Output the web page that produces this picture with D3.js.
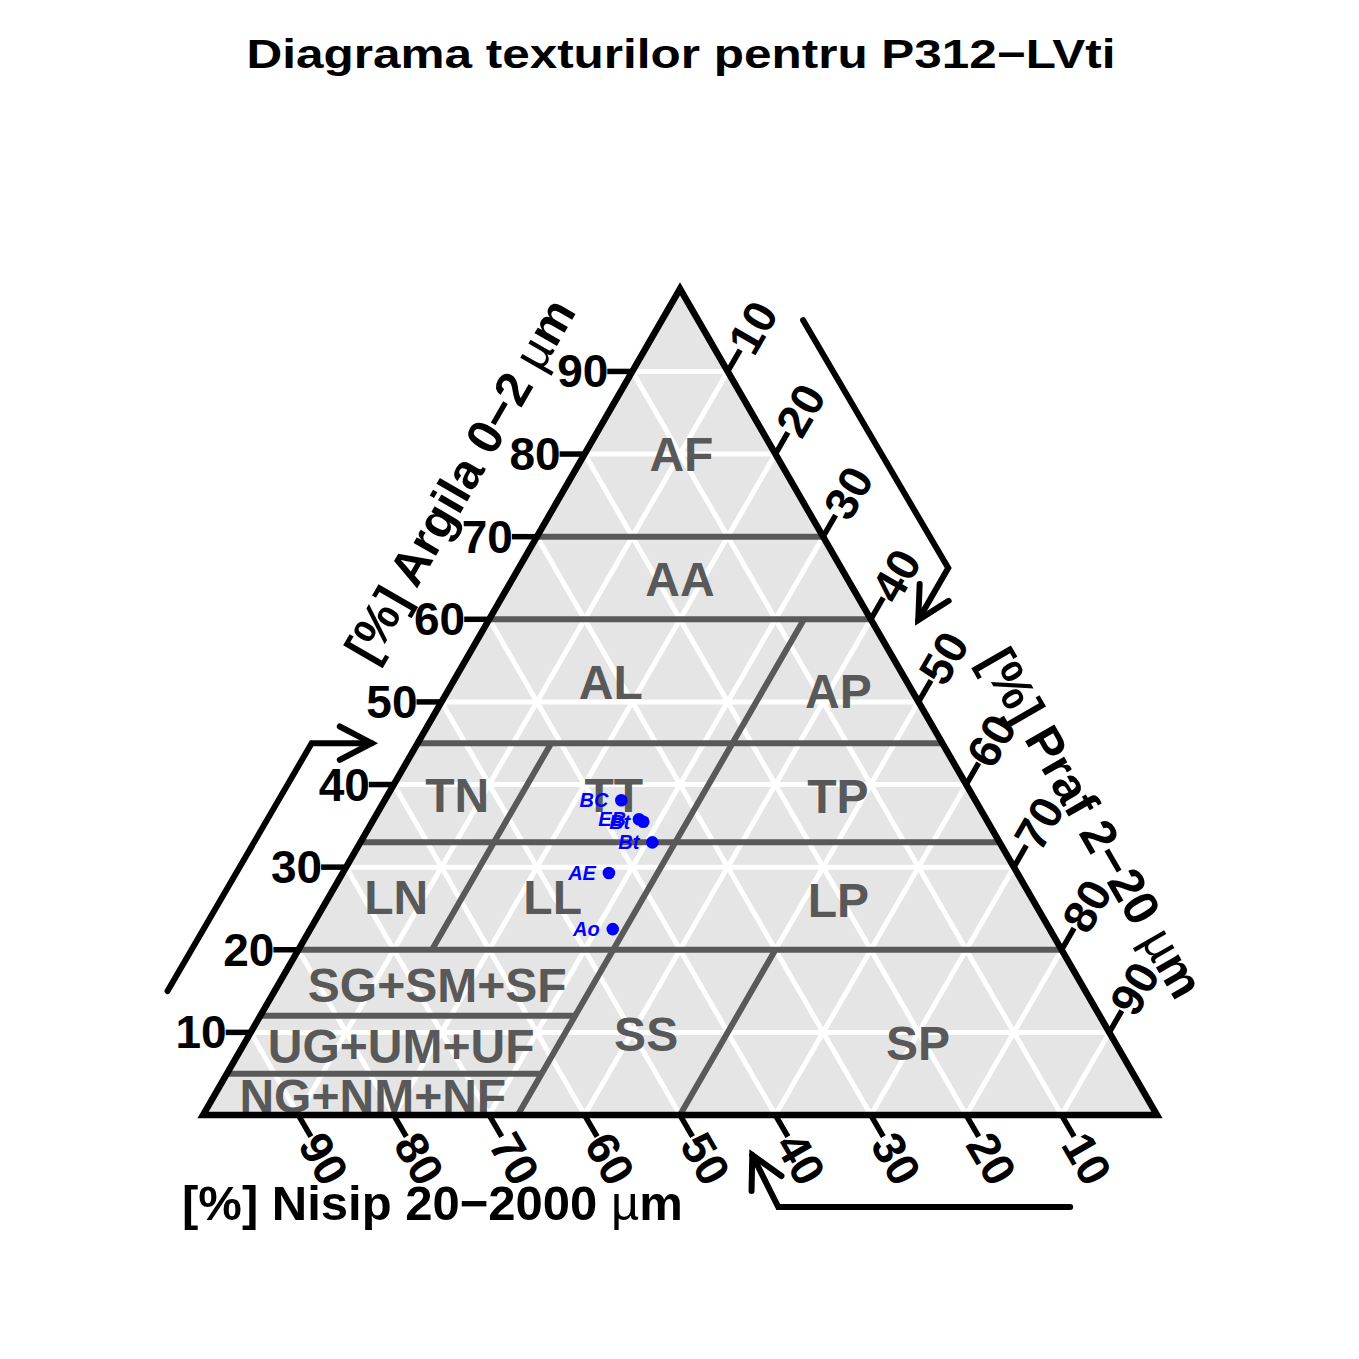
<!DOCTYPE html>
<html><head><meta charset="utf-8">
<script src="https://cdn.jsdelivr.net/npm/d3@7"></script>
<style>body{margin:0;background:#fff}svg{display:block}text{font-family:"Liberation Sans",Arial,sans-serif;font-weight:bold}</style>
</head><body>
<svg id="chart" width="1359" height="1359"></svg>
<script>
// ---------- data ----------
const titleText = "Diagrama texturilor pentru P312\u2212LVti";
const clayTicks = [10,20,30,40,50,60,70,80,90];
const siltTicks = [10,20,30,40,50,60,70,80,90];
const sandTicks = [10,20,30,40,50,60,70,80,90];
const gridLevels = [10,20,30,40,50,60,70,80,90];
// class boundaries: [clay1, silt1, clay2, silt2]
const boundaryClay = [[70,0,70,30],[60,0,60,40],[45,0,45,55],[33,0,33,67],[20,0,20,80],[12,0,12,33],[5,0,5,33]];
const boundarySilt = [[0,33,60,33],[20,14,45,14],[0,50,20,50]];
const classNames = ["AF","AA","AL","AP","TN","TT","TP","LN","LL","LP","SG+SM+SF","UG+UM+UF","NG+NM+NF","SS","SP"];
const classClay  = [79.9,64.8,52.3,51.2,38.7,38.7,38.5,26.3,26.3,26.0,15.7,8.35,2.2,9.7,8.7];
const classSilt  = [10.2,17.6,16.6,41.0,7.3,23.7,47.3,7.1,23.5,53.6,16.7,16.6,16.7,41.6,70.6];
const horizons = ["BC","EB","Bt","Bt","AE","Ao"];
const clayVals = [38.1,35.8,35.5,33.0,29.3,22.5];
const siltVals = [24.8,27.8,28.4,30.6,27.9,31.7];

// ---------- layout ----------
const svg = d3.select("#chart");
const Lx = 203, W = 954, By = 1115, H = W*Math.sqrt(3)/2;
const xs = d3.scaleLinear().domain([0,100]).range([Lx, Lx+W]);
const ys = d3.scaleLinear().domain([0,100]).range([By, By-H]);
const proj = (clay, silt) => [xs(silt + clay/2), ys(clay)];
const line = d3.line();
const GREY = "#595959";

// title
svg.append("text").attr("x",681).attr("y",68).attr("text-anchor","middle")
  .attr("font-size",40).attr("textLength",869).attr("lengthAdjust","spacingAndGlyphs")
  .text(titleText);

// triangle fill
const tri = [proj(0,0), proj(100,0), proj(0,100)];
svg.append("path").attr("d", line(tri)+"Z").attr("fill","#E5E5E5");

// grid
const gridG = svg.append("g").attr("stroke","#fff").attr("stroke-width",5).attr("fill","none");
gridLevels.forEach(v=>{
  gridG.append("path").attr("d", line([proj(v,0), proj(v,100-v)]));      // clay
  gridG.append("path").attr("d", line([proj(0,v), proj(100-v,v)]));      // silt
  gridG.append("path").attr("d", line([proj(0,100-v), proj(100-v,0)]));  // sand
});

// class boundaries
const bG = svg.append("g").attr("stroke",GREY).attr("stroke-width",6).attr("fill","none");
boundaryClay.concat(boundarySilt).forEach(b=>{
  bG.append("path").attr("d", line([proj(b[0],b[1]), proj(b[2],b[3])]));
});

// class labels
svg.append("g").selectAll("text").data(classNames).join("text")
  .attr("x",(d,i)=>proj(classClay[i],classSilt[i])[0])
  .attr("y",(d,i)=>proj(classClay[i],classSilt[i])[1])
  .attr("text-anchor","middle").attr("dominant-baseline","central")
  .attr("font-size",48).attr("fill",GREY).text(d=>d);

// triangle border
svg.append("path").attr("d", line(tri)+"Z").attr("fill","none")
  .attr("stroke","#000").attr("stroke-width",6.5).attr("stroke-linejoin","miter");

// ticks
const TL = 25, c60 = 0.5, s60 = Math.sqrt(3)/2;
const tG = svg.append("g");
clayTicks.forEach(v=>{
  const p = proj(v, 0);
  tG.append("line").attr("x1",p[0]).attr("y1",p[1]).attr("x2",p[0]-TL).attr("y2",p[1])
    .attr("stroke","#000").attr("stroke-width",5.5);
  tG.append("text").attr("x",p[0]-TL+1).attr("y",p[1]).attr("text-anchor","end")
    .attr("dominant-baseline","central").attr("font-size",46).text(v);
});
siltTicks.forEach(v=>{
  const p = proj(100-v, v);
  const e = [p[0]+TL*c60, p[1]-TL*s60];
  tG.append("line").attr("x1",p[0]).attr("y1",p[1]).attr("x2",e[0]).attr("y2",e[1])
    .attr("stroke","#000").attr("stroke-width",5.5);
  tG.append("text").attr("transform",`translate(${e[0]},${e[1]}) rotate(-60)`)
    .attr("dominant-baseline","central").attr("font-size",46).text(v);
});
sandTicks.forEach(v=>{
  const p = proj(0, 100-v);
  const e = [p[0]+TL*c60, p[1]+TL*s60];
  tG.append("line").attr("x1",p[0]).attr("y1",p[1]).attr("x2",e[0]).attr("y2",e[1])
    .attr("stroke","#000").attr("stroke-width",5.5);
  tG.append("text").attr("transform",`translate(${e[0]},${e[1]}) rotate(60)`)
    .attr("dominant-baseline","central").attr("font-size",46).text(v);
});

// axis titles
function axisTitle(x, y, rot, anchor, main){
  const t = svg.append("text").attr("transform",`translate(${x},${y}) rotate(${rot})`)
    .attr("text-anchor",anchor).attr("font-size",49);
  if(anchor==="middle") t.attr("dominant-baseline","central");
  t.append("tspan").text(main);
  t.append("tspan").attr("font-weight","normal").text("\u00b5");
  t.append("tspan").text("m");
}
axisTitle(460, 480, -60, "middle", "[%] Argila 0\u22122 ");
axisTitle(1092, 823, 60, "middle", "[%] Praf 2\u221220 ");
axisTitle(182, 1220, 0, "start", "[%] Nisip 20\u22122000 ");

// arrows
const aG = svg.append("g").attr("fill","none").attr("stroke","#000").attr("stroke-width",6)
  .attr("stroke-linecap","round").attr("stroke-linejoin","miter");
function arrow(pts){
  aG.append("path").attr("d", line(pts));
  const n = pts.length, tip = pts[n-1], prev = pts[n-2];
  const ang = Math.atan2(tip[1]-prev[1], tip[0]-prev[0]);
  const L = 36, a = Math.PI/6.5;
  const h1 = [tip[0]-L*Math.cos(ang-a), tip[1]-L*Math.sin(ang-a)];
  const h2 = [tip[0]-L*Math.cos(ang+a), tip[1]-L*Math.sin(ang+a)];
  aG.append("path").attr("d", line([h1, tip, h2]));
}
// left (clay) arrow: left edge shifted outward
{
  const a0 = proj(15,0), a1 = proj(45,0);
  arrow([[a0[0]-107,a0[1]],[a1[0]-106,a1[1]],[a1[0]-46,a1[1]]]);
}
// right (silt) arrow
{
  const b0 = proj(96.2,3.8), b1 = proj(66.2,33.8);
  const c1 = [b1[0]+107, b1[1]];
  arrow([[b0[0]+105,b0[1]], c1, [c1[0]-30, c1[1]+52]]);
}
// bottom (sand) arrow
{
  const d0 = proj(0,90.9), d1 = proj(0,60.3);
  const e1 = [d1[0], d1[1]+92];
  arrow([[d0[0],d0[1]+92], e1, [e1[0]-26, e1[1]-52]]);
}

// points
const pG = svg.append("g");
horizons.forEach((h,i)=>{
  const p = proj(clayVals[i], siltVals[i]);
  pG.append("circle").attr("cx",p[0]).attr("cy",p[1]).attr("r",6.3).attr("fill","#0000FF");
  pG.append("text").attr("x",p[0]-13).attr("y",p[1]).attr("text-anchor","end")
    .attr("dominant-baseline","central").attr("font-size",20).attr("font-style","italic")
    .attr("fill","#0000FF").text(h);
});
</script>
</body></html>
